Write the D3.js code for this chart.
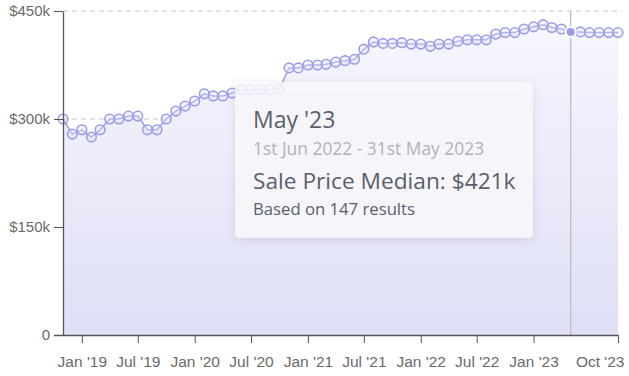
<!DOCTYPE html>
<html>
<head>
<meta charset="utf-8">
<script src="https://cdn.jsdelivr.net/npm/d3@7"></script>
<style>
  body { margin: 0; background: #fff; }
  svg { display: block; font-family: "Open Sans", "Noto Sans", sans-serif; }
  .axis text { fill: #6a6a6a; }
  .axis path, .axis line { stroke: #555; }
</style>
</head>
<body>
<svg id="chart" width="629" height="376"></svg>
<script>
// monthly series, Nov 2018 .. Oct 2023
const startMonth = new Date(2018, 10, 1);
const endMonth = new Date(2023, 9, 1);
const months = d3.timeMonth.range(startMonth, d3.timeMonth.offset(endMonth, 1));
const medianK = [300, 279, 285, 275, 285, 300, 300, 304, 304, 285,
  285, 300, 311, 318, 325, 335, 332, 332, 336, 341,
  341, 341, 341, 342, 371, 371, 375, 375, 376, 379,
  381, 383, 397, 407, 405, 405, 406, 404, 404, 401,
  404, 404, 408, 410, 410, 410, 418, 420, 420, 425,
  428, 431, 427, 425, 421, 421, 420, 420, 420, 420];
const yTicks = [0, 150, 300, 450];
const xTickDates = [new Date(2019, 0, 1), new Date(2019, 6, 1), new Date(2020, 0, 1),
  new Date(2020, 6, 1), new Date(2021, 0, 1), new Date(2021, 6, 1), new Date(2022, 0, 1),
  new Date(2022, 6, 1), new Date(2023, 0, 1), new Date(2023, 9, 1)];
const activeIndex = 54; // May '23
const tipTitle = "May '23";
const tipRange = "1st Jun 2022 - 31st May 2023";
const tipResults = 147;

const data = months.map((d, i) => ({ date: d, value: medianK[i] }));

const svg = d3.select("#chart");
const m = { left: 63, right: 618, top: 11, bottom: 335 };

const x = d3.scaleTime().domain([startMonth, endMonth]).range([m.left, m.right]);
const y = d3.scaleLinear().domain([0, 450]).range([m.bottom, m.top]);

const defs = svg.append("defs");
const grad = defs.append("linearGradient")
  .attr("id", "areaGrad")
  .attr("x1", 0).attr("y1", 0).attr("x2", 0).attr("y2", 1);
grad.append("stop").attr("offset", "0%").attr("stop-color", "#f6f6fe");
grad.append("stop").attr("offset", "100%").attr("stop-color", "#dfdff6");

const shadow = defs.append("filter").attr("id", "shadow")
  .attr("x", "-20%").attr("y", "-20%").attr("width", "140%").attr("height", "140%");
shadow.append("feDropShadow")
  .attr("dx", 0).attr("dy", 2).attr("stdDeviation", 5)
  .attr("flood-color", "#000").attr("flood-opacity", 0.12);

// grid
svg.append("g")
  .selectAll("line")
  .data(yTicks.filter(d => d > 0))
  .join("line")
  .attr("x1", m.left).attr("x2", 622)
  .attr("y1", d => y(d)).attr("y2", d => y(d))
  .attr("stroke", "#c8c8c8")
  .attr("stroke-dasharray", "5,4");

// area
svg.append("path")
  .datum(data)
  .attr("fill", "url(#areaGrad)")
  .attr("d", d3.area().x(d => x(d.date)).y0(m.bottom).y1(d => y(d.value)));

// cursor line
svg.append("line")
  .attr("x1", x(data[activeIndex].date)).attr("x2", x(data[activeIndex].date))
  .attr("y1", m.top).attr("y2", m.bottom)
  .attr("stroke", "#bbb").attr("stroke-width", 1.2);

// line
svg.append("path")
  .datum(data)
  .attr("fill", "none")
  .attr("stroke", "#9c9ce8")
  .attr("stroke-width", 1.5)
  .attr("d", d3.line().x(d => x(d.date)).y(d => y(d.value)));

svg.append("g")
  .selectAll("circle")
  .data(data.filter((d, i) => i !== activeIndex))
  .join("circle")
  .attr("cx", d => x(d.date))
  .attr("cy", d => y(d.value))
  .attr("r", 4.8)
  .attr("fill", "rgba(225,225,250,0.35)")
  .attr("stroke", "#9c9ce8")
  .attr("stroke-width", 1.6);

svg.append("circle")
  .attr("cx", x(data[activeIndex].date))
  .attr("cy", y(data[activeIndex].value))
  .attr("r", 5)
  .attr("fill", "#9c9ce8")
  .attr("stroke", "#fff")
  .attr("stroke-width", 2);

// axes
svg.append("g")
  .attr("class", "axis")
  .attr("transform", `translate(${m.left},0)`)
  .call(d3.axisLeft(y).tickValues(yTicks).tickSize(9).tickPadding(4).tickSizeOuter(0)
    .tickFormat(d => d === 0 ? "0" : `$${d}k`))
  .call(g => g.select(".domain").attr("stroke-width", 1.3))
  .selectAll(".tick text").style("font-size", "15px");

svg.append("g")
  .attr("class", "axis")
  .attr("transform", `translate(0,${m.bottom})`)
  .call(d3.axisBottom(x).tickValues(xTickDates).tickSize(8).tickSizeOuter(0)
    .tickPadding(13)
    .tickFormat(d3.timeFormat("%b '%y")))
  .call(g => g.select(".domain").attr("d", `M${m.left - 9},0.5H${m.right}`).attr("stroke-width", 1.3))
  .call(g => g.selectAll(".tick:last-of-type text").attr("text-anchor", "end").attr("x", 6))
  .selectAll(".tick text").style("font-size", "15.5px");

// tooltip
const tip = svg.append("g").attr("transform", "translate(235,82)");
tip.append("rect")
  .attr("width", 298).attr("height", 156).attr("rx", 5)
  .attr("fill", "rgba(250,250,252,0.82)")
  .attr("filter", "url(#shadow)");
tip.append("text").attr("x", 18).attr("y", 46)
  .attr("font-size", 23).attr("fill", "#5b5f6b").text(tipTitle);
tip.append("text").attr("x", 18).attr("y", 73)
  .attr("font-size", 17.4).attr("fill", "#afb2ba").text(tipRange);
tip.append("text").attr("x", 18).attr("y", 107)
  .attr("font-size", 22.7).attr("fill", "#5b5f6b")
  .text(`Sale Price Median: $${data[activeIndex].value}k`);
tip.append("text").attr("x", 18).attr("y", 133)
  .attr("font-size", 16.7).attr("fill", "#5b5f6b")
  .text(`Based on ${tipResults} results`);
</script>
</body>
</html>
